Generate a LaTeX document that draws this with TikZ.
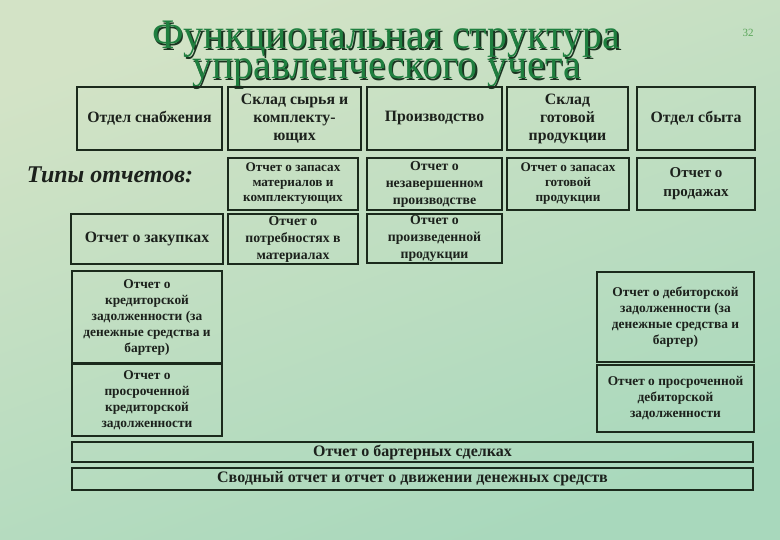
\documentclass[tikz,border=0pt]{standalone}
\usepackage{fontspec}
\setmainfont{Liberation Serif}
\definecolor{bgtop}{HTML}{D3E3C6}
\definecolor{bgbot}{HTML}{A8D8BC}
\definecolor{edge}{HTML}{1B2A1C}
\definecolor{ink}{HTML}{1C211C}
\definecolor{titlegreen}{HTML}{1F7F3F}
\definecolor{titleshadow}{HTML}{1A3320}
\tikzset{
  box/.style={draw=edge, line width=2pt, align=center, inner sep=1pt, text=ink, font=\bfseries},
  big/.style={box, font=\bfseries\fontsize{15.8}{18}\selectfont},
  mid/.style={box, font=\bfseries\fontsize{13.8}{17}\selectfont},
  small/.style={box, font=\bfseries\fontsize{13.2}{15}\selectfont},
  side/.style={box, font=\bfseries\fontsize{13.4}{16}\selectfont},
  ttl/.style={font=\fontsize{42}{25}\selectfont, align=center, xscale=0.95, transform shape}
}
\begin{document}
\begin{tikzpicture}[x=1pt,y=-1pt]
\shade[top color=bgtop, bottom color=bgbot, shading angle=20] (0,0) rectangle (780,540);
\useasboundingbox (0,0) rectangle (780,540);
% title
\node[ttl, text=titleshadow] (tshadow) at (388,56) {Функциональная структура\\управленческого учета};
\node[ttl, text=titlegreen] (title) at (386.5,54.5) {Функциональная структура\\управленческого учета};
\node[text=gray!70!green, font=\fontsize{11}{13}\selectfont] (page) at (748,33) {32};
% top row
\node[big, minimum width=145pt, minimum height=63pt] (snab) at (149.5,118.5) {Отдел снабжения};
\node[big, minimum width=133pt, minimum height=63pt] (syr) at (294.5,118.5) {Склад сырья и\\комплекту-\\ющих};
\node[big, minimum width=135pt, minimum height=63pt] (proizv) at (434.5,118.5) {Производство};
\node[big, minimum width=121pt, minimum height=63pt] (gotov) at (567.5,118.5) {Склад\\готовой\\продукции};
\node[big, minimum width=118pt, minimum height=63pt] (sbyt) at (696,118.5) {Отдел сбыта};
% types
\node[font=\bfseries\itshape\fontsize{24}{28}\selectfont, text=ink] (types) at (110,175) {Типы отчетов:};
% second row
\node[small, minimum width=130pt, minimum height=52pt] (zapmat) at (293,184) {Отчет о запасах\\материалов и\\комплектующих};
\node[mid, minimum width=135pt, minimum height=52pt] (nezav) at (434.5,184) {Отчет о\\незавершенном\\производстве};
\node[small, minimum width=122pt, minimum height=52pt] (zapgot) at (568,184) {Отчет о запасах\\готовой\\продукции};
\node[big, font=\bfseries\fontsize{15}{19}\selectfont, minimum width=118pt, minimum height=52pt] (prodazh) at (696,184) {Отчет о\\продажах};
% third row
\node[big, minimum width=152pt, minimum height=50pt] (zakup) at (147,239) {Отчет о закупках};
\node[mid, minimum width=130pt, minimum height=50pt] (potreb) at (293,239) {Отчет о\\потребностях в\\материалах};
\node[mid, minimum width=135pt, minimum height=49pt] (proizved) at (434.5,238.5) {Отчет о\\произведенной\\продукции};
% left column
\node[side, minimum width=150pt, minimum height=92pt] (kredit) at (147,317) {Отчет о\\кредиторской\\задолженности (за\\денежные средства и\\бартер)};
\node[side, minimum width=150pt, minimum height=72pt] (prkred) at (147,400) {Отчет о\\просроченной\\кредиторской\\задолженности};
% right column
\node[side, minimum width=157pt, minimum height=90pt] (debit) at (675.5,317) {Отчет о дебиторской\\задолженности (за\\денежные средства и\\бартер)};
\node[side, minimum width=157pt, minimum height=67pt] (prdeb) at (675.5,398.5) {Отчет о просроченной\\дебиторской\\задолженности};
% bottom bars
\node[big, font=\bfseries\fontsize{16}{18}\selectfont, minimum width=681pt, minimum height=20pt] (barter) at (412.5,452) {Отчет о бартерных сделках};
\node[big, font=\bfseries\fontsize{16}{18}\selectfont, minimum width=681pt, minimum height=22pt] (svod) at (412.5,479) {Сводный отчет и отчет о движении денежных средств};
\end{tikzpicture}
\end{document}
